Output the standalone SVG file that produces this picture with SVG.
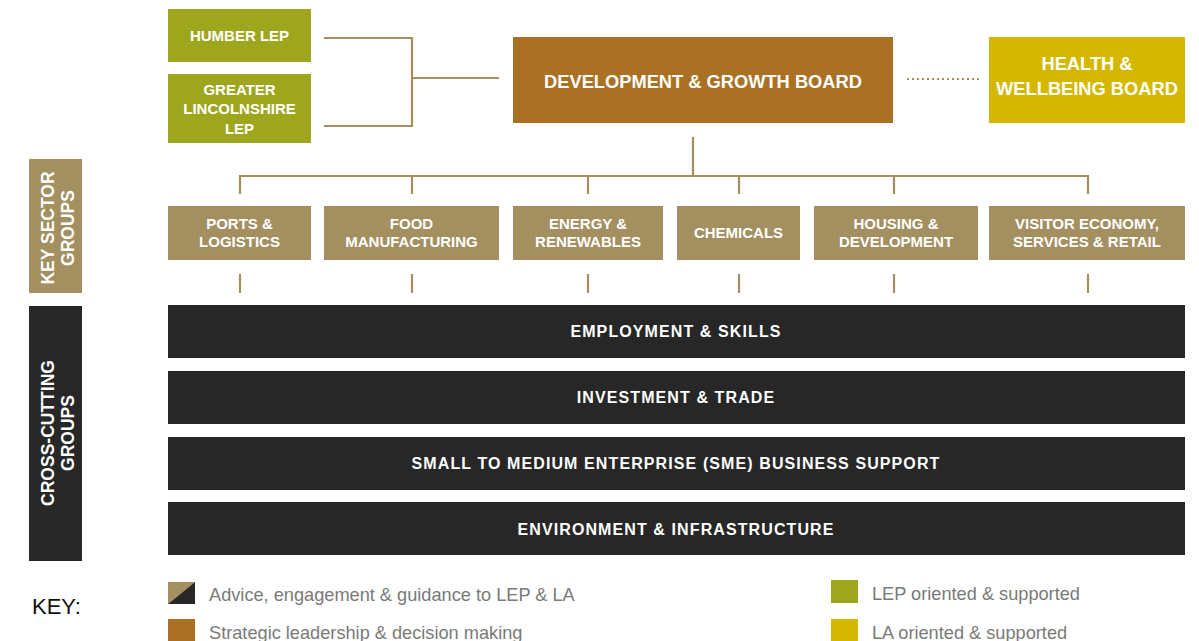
<svg xmlns="http://www.w3.org/2000/svg" width="1199" height="641" viewBox="0 0 1199 641">
<style>
.t{font-family:"Liberation Sans",Arial,sans-serif;font-weight:bold;fill:#fff;text-anchor:middle}
.s{font-size:15px}
.b{font-size:16px;letter-spacing:1.1px}
.v{font-size:17.5px}
.lg{font-family:"Liberation Sans",Arial,sans-serif;font-size:18.2px;fill:#7a7a7a}
.ln{stroke:#A38F5F;stroke-width:2.2;fill:none}
.lep{fill:#9EA61E}
.sec{fill:#A38F5F}
.dk{fill:#272727}
</style>
<rect width="1199" height="641" fill="#fff"/>
<g id="connectors">
<path class="ln" d="M324 38H412V126H324M412 78H499"/>
<path d="M907 79H979" stroke="#A38F5F" stroke-width="2" stroke-dasharray="2,3"/>
<path class="ln" d="M693 137V176M240 194V176H1088V194M412 176V194M588 176V194M739 176V194M894 176V194"/>
<path class="ln" d="M240 274V293M412 274V293M588 274V293M739 274V293M894 274V293M1088 274V293"/>
</g>
<g id="humber"><rect class="lep" x="168" y="9" width="143" height="53"/><text class="t s" x="239.5" y="41">HUMBER LEP</text></g>
<g id="greater"><rect class="lep" x="168" y="74" width="143" height="69"/><text class="t s" x="239.5" y="95">GREATER</text><text class="t s" x="239.5" y="114">LINCOLNSHIRE</text><text class="t s" x="239.5" y="134">LEP</text></g>
<g id="dgb"><rect fill="#AA7124" x="513" y="37" width="380" height="86"/><text class="t" font-size="18.3" x="703" y="88">DEVELOPMENT &amp; GROWTH BOARD</text></g>
<g id="hwb"><rect fill="#D4B800" x="989" y="37" width="196" height="86"/><text class="t" font-size="18.3" x="1087" y="70">HEALTH &amp;</text><text class="t" font-size="18.3" x="1087" y="95">WELLBEING BOARD</text></g>
<g id="ports"><rect class="sec" x="168" y="206" width="143" height="54"/><text class="t s" x="239.5" y="229">PORTS &amp;</text><text class="t s" x="239.5" y="247">LOGISTICS</text></g>
<g id="food"><rect class="sec" x="324" y="206" width="175" height="54"/><text class="t s" x="411.5" y="229">FOOD</text><text class="t s" x="411.5" y="247">MANUFACTURING</text></g>
<g id="energy"><rect class="sec" x="513" y="206" width="150" height="54"/><text class="t s" x="588" y="229">ENERGY &amp;</text><text class="t s" x="588" y="247">RENEWABLES</text></g>
<g id="chem"><rect class="sec" x="677" y="206" width="123" height="54"/><text class="t s" x="738.5" y="238">CHEMICALS</text></g>
<g id="housing"><rect class="sec" x="814" y="206" width="164" height="54"/><text class="t s" x="896" y="229">HOUSING &amp;</text><text class="t s" x="896" y="247">DEVELOPMENT</text></g>
<g id="visitor"><rect class="sec" x="989" y="206" width="196" height="54"/><text class="t s" x="1087" y="229">VISITOR ECONOMY,</text><text class="t s" x="1087" y="247">SERVICES &amp; RETAIL</text></g>
<g id="emp"><rect class="dk" x="168" y="305" width="1017" height="53"/><text class="t b" x="676" y="337">EMPLOYMENT &amp; SKILLS</text></g>
<g id="inv"><rect class="dk" x="168" y="371" width="1017" height="53"/><text class="t b" x="676" y="403">INVESTMENT &amp; TRADE</text></g>
<g id="sme"><rect class="dk" x="168" y="437" width="1017" height="53"/><text class="t b" x="676" y="469">SMALL TO MEDIUM ENTERPRISE (SME) BUSINESS SUPPORT</text></g>
<g id="env"><rect class="dk" x="168" y="502" width="1017" height="53"/><text class="t b" x="676" y="535">ENVIRONMENT &amp; INFRASTRUCTURE</text></g>
<g id="keysector"><rect class="sec" x="29" y="159" width="53" height="134"/><text class="t v" transform="translate(54 228) rotate(-90)"><tspan x="0" y="0">KEY SECTOR</tspan><tspan x="0" y="20">GROUPS</tspan></text></g>
<g id="crosscut"><rect class="dk" x="29" y="306" width="53" height="255"/><text class="t v" transform="translate(54 433) rotate(-90)"><tspan x="0" y="0">CROSS-CUTTING</tspan><tspan x="0" y="20">GROUPS</tspan></text></g>
<g id="key">
<text x="32" y="614" font-family="Liberation Sans,Arial,sans-serif" font-size="22" fill="#111">KEY:</text>
<polygon points="168,582 195,582 168,604" fill="#A38F5F"/><polygon points="195,582 195,604 168,604" fill="#272727"/>
<text class="lg" x="209" y="601">Advice, engagement &amp; guidance to LEP &amp; LA</text>
<rect x="168" y="619" width="27" height="22" fill="#AA7124"/>
<text class="lg" x="209" y="639">Strategic leadership &amp; decision making</text>
<rect x="831" y="580" width="27" height="23" fill="#9EA61E"/>
<text class="lg" x="872" y="600">LEP oriented &amp; supported</text>
<rect x="831" y="619" width="27" height="22" fill="#D4B800"/>
<text class="lg" x="872" y="639">LA oriented &amp; supported</text>
</g>
</svg>
